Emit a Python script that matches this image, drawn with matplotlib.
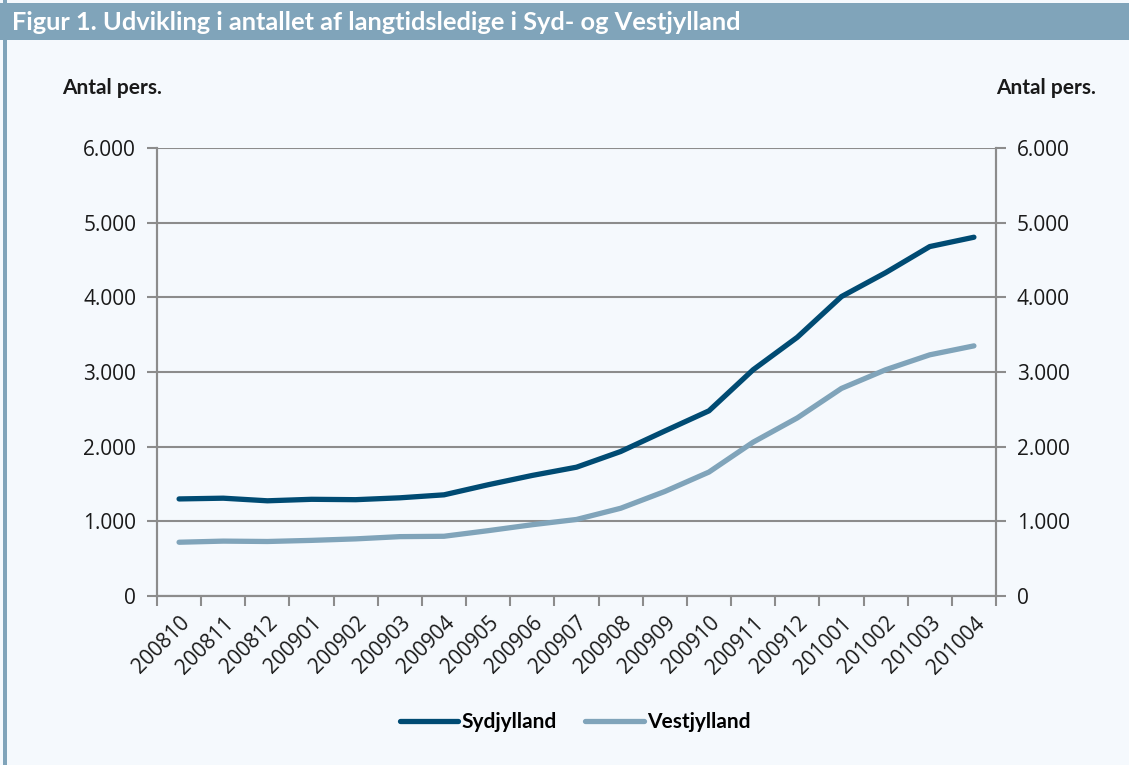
import matplotlib
matplotlib.use("Agg")
import matplotlib.pyplot as plt
from matplotlib.patches import Rectangle
from matplotlib.ticker import FuncFormatter

# data
months = ["200810", "200811", "200812", "200901", "200902", "200903", "200904",
          "200905", "200906", "200907", "200908", "200909", "200910", "200911",
          "200912", "201001", "201002", "201003", "201004"]
sydjylland = [1300, 1310, 1275, 1295, 1290, 1315, 1355, 1490, 1615, 1725,
              1935, 2210, 2480, 3030, 3465, 4010, 4330, 4680, 4805]
vestjylland = [720, 735, 730, 745, 765, 795, 800, 875, 955, 1025,
               1175, 1400, 1660, 2060, 2385, 2780, 3030, 3230, 3350]
yticks = [0, 1000, 2000, 3000, 4000, 5000, 6000]

dark = "#004b73"
light = "#80a4ba"
bg = "#f5f9fd"
grid = "#8c8c8c"
txt = "#1a1a1a"
tick_fs = 15

fig = plt.figure(figsize=(11.29, 7.65), dpi=100, facecolor=bg)

# title band and left border
fig.patches.append(Rectangle((0, 1 - 40 / 765), 1, 37 / 765, transform=fig.transFigure,
                             facecolor=light, edgecolor="none", zorder=0))
fig.patches.append(Rectangle((3 / 1129, 0), 4 / 1129, 1, transform=fig.transFigure,
                             facecolor=light, edgecolor="none", zorder=0))
fig.text(12 / 1129, 1 - 22 / 765, "Figur 1. Udvikling i antallet af langtidsledige i Syd- og Vestjylland",
         color="white", fontsize=18.3, fontweight="bold", family="Lato", va="center", ha="left")

ax = fig.add_axes([157 / 1129, 1 - 596 / 765, (996 - 157) / 1129, (596 - 148) / 765])
ax.set_facecolor(bg)

x = list(range(len(months)))
ax.plot(x, sydjylland, color=dark, lw=3.8, solid_capstyle="round", label="Sydjylland", zorder=3)
ax.plot(x, vestjylland, color=light, lw=3.8, solid_capstyle="round", label="Vestjylland", zorder=3)

ax.set_xlim(-0.5, len(months) - 0.5)
ax.set_ylim(0, 6000)

# category boundaries as major ticks, labels on centers
ax.set_xticks([i - 0.5 for i in range(len(months) + 1)])
ax.set_xticklabels([])
ax.set_xticks(x, minor=True)
ax.set_xticklabels(months, minor=True, rotation=45, ha="right", rotation_mode="anchor",
                   fontsize=tick_fs, family="Open Sans", color=txt)
ax.tick_params(axis="x", which="major", length=7, width=1.5, color=grid, direction="out")
ax.tick_params(axis="x", which="minor", length=0, pad=12)

fmt = FuncFormatter(lambda v, p: f"{int(v):,}".replace(",", "."))
ax.set_yticks(yticks)
ax.yaxis.set_major_formatter(fmt)
ax.tick_params(axis="y", length=7, width=1.5, color=grid, labelsize=tick_fs, pad=8, labelcolor=txt)
for lab in ax.get_yticklabels():
    lab.set_family("Open Sans")
ax.grid(axis="y", color=grid, lw=1.5, zorder=1)

ax2 = ax.twinx()
ax2.set_ylim(0, 6000)
ax2.set_yticks(yticks)
ax2.yaxis.set_major_formatter(fmt)
ax2.tick_params(axis="y", length=7, width=1.5, color=grid, labelsize=tick_fs, pad=8, labelcolor=txt)
for lab in ax2.get_yticklabels():
    lab.set_family("Open Sans")

for a in (ax, ax2):
    a.spines["top"].set_visible(False)
    for s in ("left", "right", "bottom"):
        a.spines[s].set_color(grid)
        a.spines[s].set_linewidth(1.5)

fig.text(62 / 1129, 1 - 88 / 765, "Antal pers.", fontsize=15, fontweight="bold",
         family="Lato", color=txt, va="center", ha="left")
fig.text(1096 / 1129, 1 - 88 / 765, "Antal pers.", fontsize=15, fontweight="bold",
         family="Lato", color=txt, va="center", ha="right")

handles, labels = ax.get_legend_handles_labels()
leg = fig.legend(handles, labels, loc="center", bbox_to_anchor=(575 / 1129, 1 - 722 / 765),
                 ncol=2, frameon=False, handlelength=2.8, handletextpad=0.15, columnspacing=1.4,
                 prop={"family": "Lato", "weight": "bold", "size": 15})

fig.savefig("out.png", dpi=100, facecolor=bg)
